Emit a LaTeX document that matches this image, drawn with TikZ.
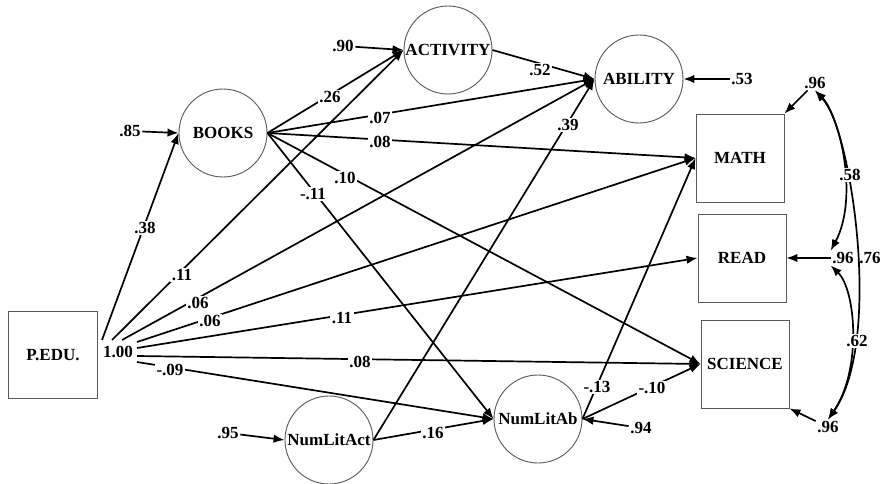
\documentclass[tikz,border=0pt]{standalone}
\usepackage{fontspec}
\setmainfont{Liberation Serif}
\usetikzlibrary{arrows.meta,calc}
\begin{document}
\begin{tikzpicture}[x=1pt,y=-1pt,
  every node/.style={font=\fontsize{17}{20}\selectfont\bfseries},
  var/.style={draw=black!65, line width=0.9pt, minimum size=88pt, inner sep=0pt},
  lat/.style={var, circle},
  obs/.style={var, rectangle},
  conn/.style={line width=1.7pt, -{Latex[length=11pt,width=8.5pt]}},
  dbl/.style={line width=1.7pt, {Latex[length=11pt,width=8.5pt]}-{Latex[length=11pt,width=8.5pt]}},
  lbl/.style={fill=white, inner sep=1.5pt},
  res/.style={inner sep=1.5pt}]
\useasboundingbox (0,0) rectangle (883,484);
\fill[white] (0,0) rectangle (883,484);

% variables
\node[obs, minimum width=89pt, minimum height=87pt] (PEDU) at (53,355) {P.EDU.};
\node[lat] (BOOKS) at (223,133) {BOOKS};
\node[lat] (ACT) at (448,50) {ACTIVITY};
\node[lat] (ABIL) at (639,79) {ABILITY};
\node[obs] (MATH) at (740,158) {MATH};
\node[obs] (READ) at (742,258) {READ};
\node[obs] (SCI) at (745,364) {SCIENCE};
\node[lat] (NLAB) at (538,419) {NumLitAb};
\node[lat] (NLACT) at (329,440) {NumLitAct};

% start points of the P.EDU paths
\coordinate (p1) at (102,340);
\coordinate (p2) at (112,340);
\coordinate (p3) at (122,340);
\coordinate (p4) at (137,342);
\coordinate (p5) at (137,348);
\coordinate (p6) at (137,356);
\coordinate (p7) at (137,362);

% paths
\draw[conn] (p1) -- (BOOKS.west);
\draw[conn] (p2) -- (ACT.west);
\draw[conn] (p3) -- (ABIL.west);
\draw[conn] (p4) -- (MATH.west);
\draw[conn] (p5) -- (READ.west);
\draw[conn] (p6) -- (SCI.west);
\draw[conn] (p7) -- (NLAB.west);
\draw[conn] (BOOKS.east) -- (ACT.west);
\draw[conn] (BOOKS.east) -- (ABIL.west);
\draw[conn] (BOOKS.east) -- (MATH.west);
\draw[conn] (BOOKS.east) -- (SCI.west);
\draw[conn] (BOOKS.east) -- (NLAB.west);
\draw[conn] (ACT.east) -- (ABIL.west);
\draw[conn] (NLACT.east) -- (ABIL.west);
\draw[conn] (NLACT.east) -- (NLAB.west);
\draw[conn] (NLAB.east) -- (MATH.west);
\draw[conn] (NLAB.east) -- (SCI.west);

% residuals
\node[res] (e85) at (130,131) {.85};
\draw[conn] (e85) -- (BOOKS.west);
\node[res] (e90) at (343,46) {.90};
\draw[conn] (e90) -- (ACT.west);
\node[res] (e53) at (742,79) {.53};
\draw[conn] (e53) -- (ABIL.east);
\node[res] (e95) at (228,433) {.95};
\draw[conn] (e95) -- (NLACT.west);
\node[res] (e94) at (641,428) {.94};
\draw[conn] (e94) -- (NLAB.east);
\node[res] (t96) at (815,83) {.96};
\draw[conn] (t96) -- (MATH.north east);
\node[res] (m96) at (843,258) {.96};
\draw[conn] (m96) -- (READ.east);
\node[res] (b96) at (828,427) {.96};
\draw[conn] (b96) -- (SCI.south east);

% correlations
\draw[dbl] (t96.south) .. controls (842,120) and (858,200) .. (m96.north west);
\draw[dbl] (t96.south) .. controls (850,125) and (884,340) .. (b96.north);
\draw[dbl] (m96.south west) .. controls (856,290) and (862,370) .. (b96.north);

% coefficient labels
\node[lbl] at (118,352) {1.00};
\node[lbl] at (145,228) {.38};
\node[lbl] at (182,275) {.11};
\node[lbl] at (198,303) {.06};
\node[lbl] at (210,321) {.06};
\node[lbl] at (342,318) {.11};
\node[lbl] at (360,362) {.08};
\node[lbl] at (170,370) {-.09};
\node[lbl] at (330,97) {.26};
\node[lbl] at (380,118) {.07};
\node[lbl] at (380,142) {.08};
\node[lbl] at (345,178) {.10};
\node[lbl] at (313,194) {-.11};
\node[lbl] at (540,70) {.52};
\node[lbl] at (568,125) {.39};
\node[lbl] at (433,433) {.16};
\node[lbl] at (597,387) {-.13};
\node[lbl] at (652,388) {-.10};
\node[lbl] at (850,175) {.58};
\node[res] at (870,258) {.76};
\node[lbl] at (857,341) {.62};
\end{tikzpicture}
\end{document}
